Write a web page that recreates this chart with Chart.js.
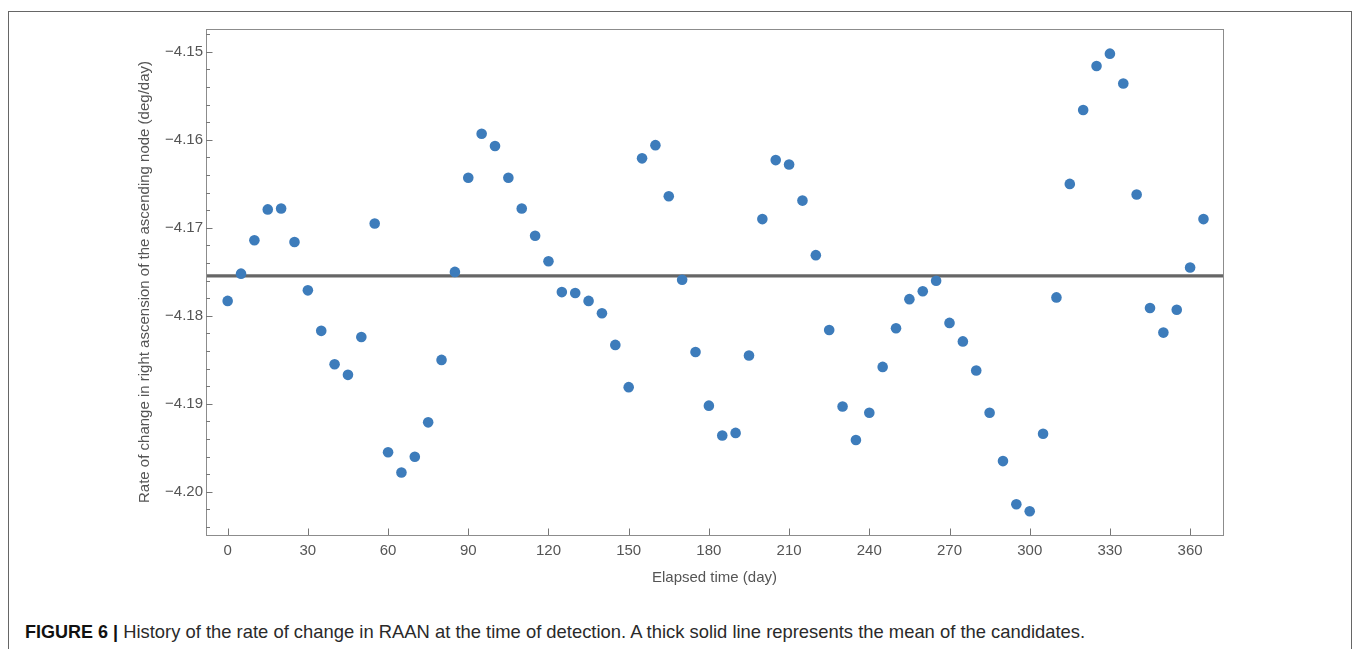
<!DOCTYPE html>
<html>
<head>
<meta charset="utf-8">
<script src="https://cdn.jsdelivr.net/npm/chart.js@4"></script>
<style>
  html, body { margin: 0; padding: 0; background: #fff; overflow: hidden; }
  body { width: 1356px; height: 649px; position: relative; font-family: "Liberation Sans", Arial, sans-serif; }
  #frame { position: absolute; left: 8px; top: 11px; width: 1344px; height: 700px; border: 1px solid #666; box-sizing: border-box; }
  #wrap { position: absolute; left: 0; top: 0; width: 1356px; height: 600px; }
  #caption { position: absolute; left: 25px; top: 621px; font-size: 18.4px; color: #2a2a2a; white-space: nowrap; line-height: 22px; }
  #caption b { font-weight: bold; font-size: 18px; color: #111; }
</style>
</head>
<body>
<div id="frame"></div>
<div id="wrap"><canvas id="c" width="1356" height="600"></canvas></div>
<div id="caption"><b>FIGURE 6 |</b> History of the rate of change in RAAN at the time of detection. A thick solid line represents the mean of the candidates.</div>
<script>
// ---- data ----
const days = [0,5,10,15,20,25,30,35,40,45,50,55,60,65,70,75,80,85,90,95,100,105,110,115,120,125,130,135,140,145,150,155,160,165,170,175,180,185,190,195,200,205,210,215,220,225,230,235,240,245,250,255,260,265,270,275,280,285,290,295,300,305,310,315,320,325,330,335,340,345,350,355,360,365];
const raanRate = [-4.1783,-4.1752,-4.1714,-4.1679,-4.1678,-4.1716,-4.1771,-4.1817,-4.1855,-4.1867,-4.1824,-4.1695,-4.1955,-4.1978,-4.1960,-4.1921,-4.1850,-4.1750,-4.1643,-4.1593,-4.1607,-4.1643,-4.1678,-4.1709,-4.1738,-4.1773,-4.1774,-4.1783,-4.1797,-4.1833,-4.1881,-4.1621,-4.1606,-4.1664,-4.1759,-4.1841,-4.1902,-4.1936,-4.1933,-4.1845,-4.1690,-4.1623,-4.1628,-4.1669,-4.1731,-4.1816,-4.1903,-4.1941,-4.1910,-4.1858,-4.1814,-4.1781,-4.1772,-4.1760,-4.1808,-4.1829,-4.1862,-4.1910,-4.1965,-4.2014,-4.2022,-4.1934,-4.1779,-4.1650,-4.1566,-4.1516,-4.1502,-4.1536,-4.1662,-4.1791,-4.1819,-4.1793,-4.1745,-4.1690];
const meanRate = -4.17546;
const xTickValues = [0,30,60,90,120,150,180,210,240,270,300,330,360];
const yTickValues = [-4.20,-4.19,-4.18,-4.17,-4.16,-4.15];
const yMinorStep = 0.002;
const xRange = [-8.1, 372.3];
const yRange = [-4.2049, -4.1474];

const points = days.map((d, i) => ({ x: d, y: raanRate[i] }));
const meanLine = [{ x: xRange[0], y: meanRate }, { x: xRange[1], y: meanRate }];

const fmt = v => (v < 0 ? '\u2212' : '') + Math.abs(v).toFixed(2);

const framePlugin = {
  id: 'frameTicks',
  afterDatasetsDraw(chart) {
    const { ctx, chartArea: a, scales: { x, y } } = chart;
    ctx.save();
    ctx.strokeStyle = '#8c8c8c';
    ctx.lineWidth = 1;
    ctx.strokeRect(Math.round(a.left) + 0.5, Math.round(a.top) + 0.5, Math.round(a.right - a.left), Math.round(a.bottom - a.top));
    ctx.strokeStyle = '#777';
    ctx.beginPath();
    yTickValues.forEach(v => {
      const py = Math.round(y.getPixelForValue(v)) + 0.5;
      ctx.moveTo(a.left, py); ctx.lineTo(a.left + 6.5, py);
    });
    const start = Math.ceil(yRange[0] / yMinorStep);
    const end = Math.floor(yRange[1] / yMinorStep);
    for (let k = start; k <= end; k++) {
      const v = k * yMinorStep;
      if (yTickValues.some(t => Math.abs(t - v) < 1e-6)) continue;
      const py = Math.round(y.getPixelForValue(v)) + 0.5;
      ctx.moveTo(a.left, py); ctx.lineTo(a.left + 4, py);
    }
    xTickValues.forEach(v => {
      const px = Math.round(x.getPixelForValue(v)) + 0.5;
      ctx.moveTo(px, a.bottom); ctx.lineTo(px, a.bottom - 6.5);
    });
    ctx.stroke();
    ctx.restore();
  }
};

const fam = '"Liberation Sans", Arial, sans-serif';

new Chart(document.getElementById('c'), {
  type: 'scatter',
  data: {
    datasets: [
      {
        label: 'mean',
        type: 'line',
        data: meanLine,
        borderColor: '#666666',
        borderWidth: 3.2,
        pointRadius: 0,
        fill: false,
        order: 2
      },
      {
        label: 'rate',
        data: points,
        backgroundColor: '#3d7cbb',
        borderWidth: 0,
        pointRadius: 5.3,
        pointHoverRadius: 5.3,
        order: 1
      }
    ]
  },
  options: {
    responsive: false,
    animation: false,
    events: [],
    layout: { padding: { left: 132, right: 133, top: 29, bottom: 9 } },
    plugins: { legend: { display: false }, tooltip: { enabled: false } },
    scales: {
      x: {
        type: 'linear',
        min: xRange[0], max: xRange[1],
        grid: { display: false, drawTicks: false },
        border: { display: false },
        afterBuildTicks: s => { s.ticks = xTickValues.map(v => ({ value: v })); },
        afterFit: s => { s.height = 56; },
        ticks: { color: '#555', font: { family: fam, size: 15 }, padding: 7, maxRotation: 0, autoSkip: false },
        title: { display: true, text: 'Elapsed time (day)', color: '#555', font: { family: fam, size: 15 } }
      },
      y: {
        type: 'linear',
        min: yRange[0], max: yRange[1],
        grid: { display: false, drawTicks: false },
        border: { display: false },
        afterBuildTicks: s => { s.ticks = yTickValues.map(v => ({ value: v })); },
        afterFit: s => { s.width = 74; },
        ticks: { color: '#555', font: { family: fam, size: 15 }, padding: 3, callback: v => fmt(v), autoSkip: false },
        title: { display: true, text: 'Rate of change in right ascension of the ascending node (deg/day)', color: '#555', font: { family: fam, size: 15 } }
      }
    }
  },
  plugins: [framePlugin]
});
</script>
</body>
</html>
